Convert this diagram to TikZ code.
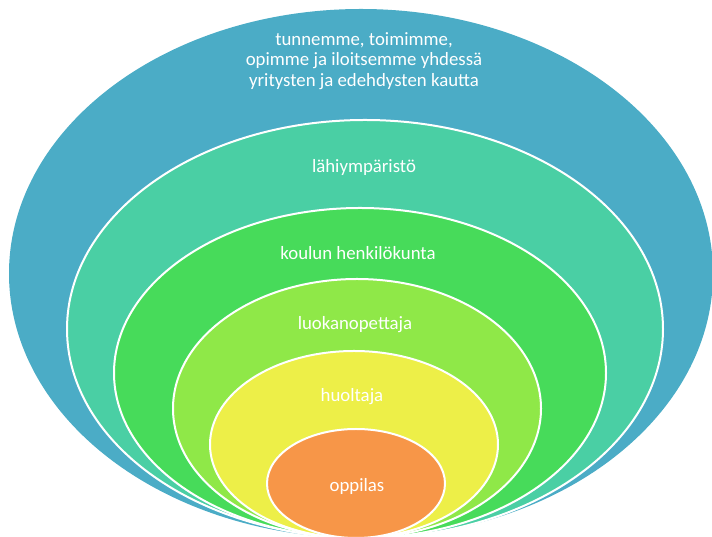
\documentclass[tikz,border=0pt]{standalone}
\usepackage{fontspec}
\setmainfont{Carlito}
\definecolor{cblue}{RGB}{75,172,198}
\definecolor{cteal}{RGB}{74,207,164}
\definecolor{cgreen}{RGB}{71,219,90}
\definecolor{clgreen}{RGB}{143,232,72}
\definecolor{cyellow}{RGB}{237,239,72}
\definecolor{corange}{RGB}{247,150,72}
\begin{document}
\begin{tikzpicture}[x=1pt,y=1pt,
  ring/.style={draw=white, line width=2pt},
  lbl/.style={text=white, font=\fontsize{18.8}{20.5}\selectfont, align=center, inner sep=0pt}]
\useasboundingbox (0,0) rectangle (712,537);
\begin{scope}
\clip (0,0) rectangle (712,537);
\path[fill=cblue] (361,263.5) ellipse [x radius=352, y radius=264.5];
\path[ring, fill=cteal] (365,208) ellipse [x radius=298, y radius=209];
\path[ring, fill=cgreen] (360,164) ellipse [x radius=246, y radius=165];
\path[ring, fill=clgreen] (357,128.5) ellipse [x radius=184, y radius=129.5];
\path[ring, fill=cyellow] (354,92.5) ellipse [x radius=144, y radius=93.5];
\path[ring, fill=corange] (356,53.5) ellipse [x radius=89, y radius=54.5];
\end{scope}
\node[lbl] (t1) at (364,476) {tunnemme, toimimme,\\opimme ja iloitsemme yhdessä\\yritysten ja edehdysten kautta};
\node[lbl] (t2) at (364,370) {lähiympäristö};
\node[lbl] (t3) at (358,284) {koulun henkilökunta};
\node[lbl] (t4) at (355,212) {luokanopettaja};
\node[lbl] (t5) at (352,140) {huoltaja};
\node[lbl] (t6) at (357,51) {oppilas};
\end{tikzpicture}
\end{document}
